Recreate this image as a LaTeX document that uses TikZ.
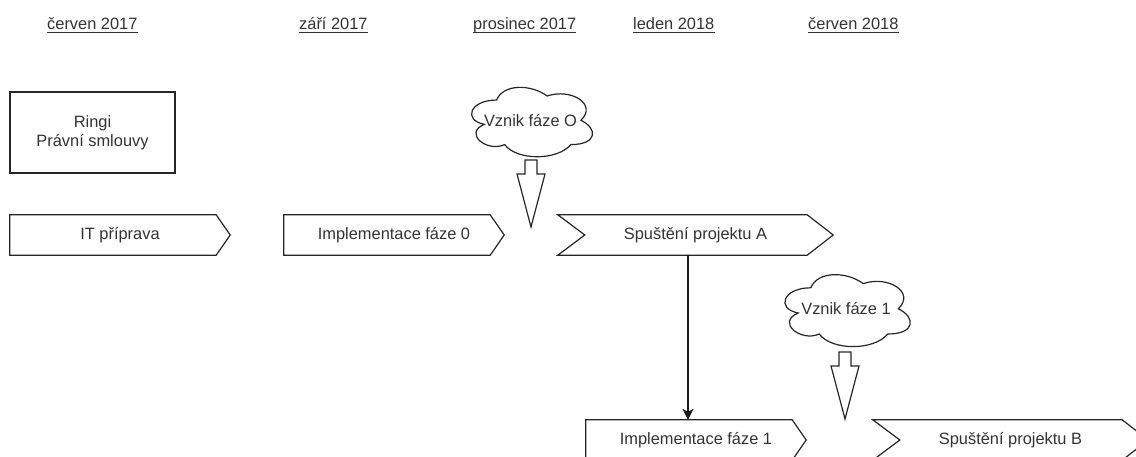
\documentclass[tikz,border=0pt]{standalone}
\usepackage{fontspec}
\setmainfont{Liberation Sans}
\usetikzlibrary{arrows.meta}
\begin{document}
\begin{tikzpicture}[x=1pt,y=-1pt,
  every node/.style={font=\fontsize{16.4}{18.8}\selectfont, text=black!80},
  outline/.style={draw=black!85, line width=1.2pt, line join=miter},
  stepnode/.style={minimum height=40pt, inner sep=0},
  hdr/.style={anchor=base west, inner sep=0},
  cloudnode/.style={inner sep=0},
  blockarrow/.pic={\draw[outline] (-6,0) -- (6,0) -- (6,14) -- (14,14) -- (0,67) -- (-14,14) -- (-6,14) -- cycle;},
]
\useasboundingbox (0,0) rectangle (1136,457);
\clip (0,0) rectangle (1136,457);
\fill[white] (0,0) rectangle (1136,457);

% timeline headers
\node[hdr] (h1) at (47,30) {červen 2017};
\node[hdr] (h2) at (299,30) {září 2017};
\node[hdr] (h3) at (473,30) {prosinec 2017};
\node[hdr] (h4) at (633,30) {leden 2018};
\node[hdr] (h5) at (808,30) {červen 2018};
\foreach \h in {h1,h2,h3,h4,h5}
  \draw[line width=1pt, black!80] ([yshift=-3pt]\h.base west) -- ([yshift=-3pt]\h.base east);

% box
\node[outline, minimum width=165pt, minimum height=81pt, align=center, inner sep=0] (ringi) at (92.5,132.5) {Ringi\\Právní smlouvy};

% steps (pentagons)
\node[stepnode, minimum width=220pt] (it) at (120,235) {IT příprava};
\node[stepnode, minimum width=220pt] (i0) at (394,235) {Implementace fáze 0};
\node[stepnode, minimum width=220pt] (i1) at (696,440) {Implementace fáze 1};
\foreach \n in {it,i0,i1}
  \draw[outline] (\n.north west) -- ([xshift=-14pt]\n.north east) -- (\n.east) -- ([xshift=-14pt]\n.south east) -- (\n.south west) -- cycle;

% chevrons
\node[stepnode, minimum width=275pt] (sa) at (695.5,235) {Spuštění projektu A};
\node[stepnode, minimum width=275pt] (sb) at (1010.5,440) {Spuštění projektu B};
\foreach \n in {sa,sb}
  \draw[outline] (\n.north west) -- ([xshift=-26pt]\n.north east) -- (\n.east) -- ([xshift=-26pt]\n.south east) -- (\n.south west) -- ([xshift=27pt]\n.west) -- cycle;

% clouds
\node[cloudnode, minimum width=135pt, minimum height=81pt] (c0) at (530.5,120.5) {Vznik fáze O};
\node[cloudnode, minimum width=140pt, minimum height=84pt] (c1) at (846,309) {Vznik fáze 1};
\begin{scope}[shift={(c0.north west)}, x=135pt, y=-81pt]
  \draw[outline] (0.25,0.25) .. controls (0.05,0.25) and (0,0.5) .. (0.16,0.55)
    .. controls (0,0.66) and (0.18,0.9) .. (0.31,0.8)
    .. controls (0.4,1) and (0.7,1) .. (0.8,0.8)
    .. controls (1,0.8) and (1,0.6) .. (0.875,0.5)
    .. controls (1,0.3) and (0.8,0.1) .. (0.625,0.2)
    .. controls (0.5,0.05) and (0.3,0.05) .. (0.25,0.25) -- cycle;
\end{scope}
\begin{scope}[shift={(c1.north west)}, x=140pt, y=-84pt]
  \draw[outline] (0.25,0.25) .. controls (0.05,0.25) and (0,0.5) .. (0.16,0.55)
    .. controls (0,0.66) and (0.18,0.9) .. (0.31,0.8)
    .. controls (0.4,1) and (0.7,1) .. (0.8,0.8)
    .. controls (1,0.8) and (1,0.6) .. (0.875,0.5)
    .. controls (1,0.3) and (0.8,0.1) .. (0.625,0.2)
    .. controls (0.5,0.05) and (0.3,0.05) .. (0.25,0.25) -- cycle;
\end{scope}

% block arrows
\pic at (531,160) {blockarrow};
\pic at (845,352) {blockarrow};

% connector
\coordinate (ax) at (688,0);
\draw[line width=1.2pt, black!90, -{Stealth[length=11pt,width=11pt,inset=3pt]}] (sa.south -| ax) -- (i1.north -| ax);
\end{tikzpicture}
\end{document}
